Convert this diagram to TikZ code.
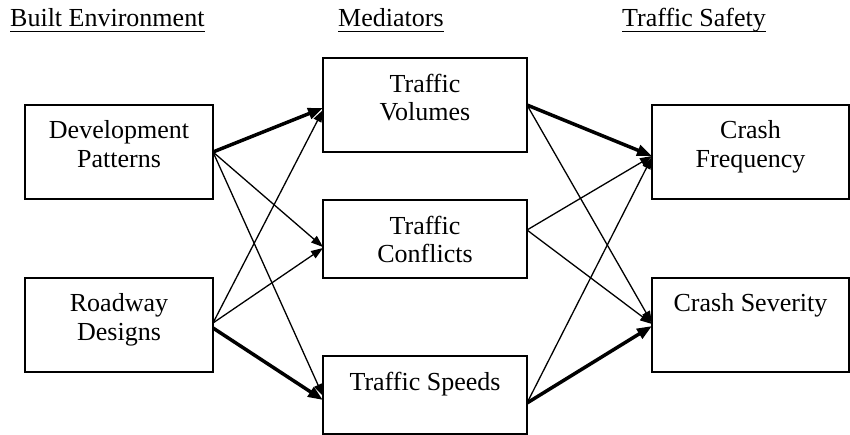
\documentclass[tikz,border=0pt]{standalone}
\usepackage{fontspec}
\setmainfont{Liberation Serif}
\usetikzlibrary{arrows.meta,calc}
\begin{document}
\begin{tikzpicture}[x=1pt,y=-1pt,
  box/.style={draw, line width=1.4pt, inner sep=0pt, outer sep=0pt, rectangle},
  lbl/.style={font=\fontsize{26}{28.5}\selectfont, align=center, inner sep=0pt, anchor=north},
  hdr/.style={font=\fontsize{26}{28.5}\selectfont, inner sep=0pt, anchor=base west},
  uline/.style={line width=1pt},
  thinarr/.style={line width=1.3pt, -{Triangle[length=12pt,width=8.5pt]}},
  thickarr/.style={line width=3.5pt, -{Triangle[length=15pt,width=11pt]}}]
\useasboundingbox (0,0) rectangle (850,435);

% headers
\node[hdr] (h1) at (10,27) {Built Environment};
\node[hdr] (h2) at (338,27) {Mediators};
\node[hdr] (h3) at (622,27) {Traffic Safety};
\draw[uline] ($(h1.base west)+(0,5)$) -- ($(h1.base east)+(0,5)$);
\draw[uline] ($(h2.base west)+(0,5)$) -- ($(h2.base east)+(0,5)$);
\draw[uline] ($(h3.base west)+(0,5)$) -- ($(h3.base east)+(0,5)$);

% boxes
\node[box, minimum width=188pt, minimum height=94pt] (dev) at (119,152) {};
\node[box, minimum width=188pt, minimum height=94pt] (rd) at (119,325) {};
\node[box, minimum width=204pt, minimum height=94pt] (vol) at (425,105) {};
\node[box, minimum width=204pt, minimum height=78pt] (conf) at (425,239) {};
\node[box, minimum width=204pt, minimum height=78pt] (spd) at (425,395) {};
\node[box, minimum width=197pt, minimum height=94pt] (cf) at (750.5,152) {};
\node[box, minimum width=197pt, minimum height=94pt] (cs) at (750.5,325) {};

% labels
\node[lbl] (ldev) at ($(dev.north)+(0,15.5)$) {Development\\Patterns};
\node[lbl] (lrd) at ($(rd.north)+(0,15.5)$) {Roadway\\Designs};
\node[lbl] (lvol) at ($(vol.north)+(0,15.5)$) {Traffic\\Volumes};
\node[lbl] (lconf) at ($(conf.north)+(0,15.5)$) {Traffic\\Conflicts};
\node[lbl] (lspd) at ($(spd.north)+(0,15.5)$) {Traffic Speeds};
\node[lbl] (lcf) at ($(cf.north)+(0,15.5)$) {Crash\\Frequency};
\node[lbl] (lcs) at ($(cs.north)+(0,15.5)$) {Crash Severity};

% left to middle
\draw[thickarr] (dev.east) -- ($(vol.west)+(0,3)$);
\draw[thinarr] (dev.east) -- ($(conf.west)+(0,8)$);
\draw[thinarr] (dev.east) -- ($(spd.west)+(0,1)$);
\draw[thinarr] ($(rd.east)+(0,-2)$) -- ($(vol.west)+(0,5)$);
\draw[thinarr] ($(rd.east)+(0,-2)$) -- ($(conf.west)+(0,9)$);
\draw[thickarr] ($(rd.east)+(0,3)$) -- ($(spd.west)+(0,5)$);

% middle to right
\draw[thickarr] (vol.east) -- ($(cf.west)+(0,4)$);
\draw[thinarr] (vol.east) -- ($(cs.west)+(0,-2)$);
\draw[thinarr] ($(conf.east)+(0,-9)$) -- ($(cf.west)+(0,4)$);
\draw[thinarr] ($(conf.east)+(0,-9)$) -- ($(cs.west)+(0,-1)$);
\draw[thinarr] ($(spd.east)+(0,8)$) -- ($(cf.west)+(0,5)$);
\draw[thickarr] ($(spd.east)+(0,8)$) -- ($(cs.west)+(0,1)$);
\end{tikzpicture}
\end{document}
